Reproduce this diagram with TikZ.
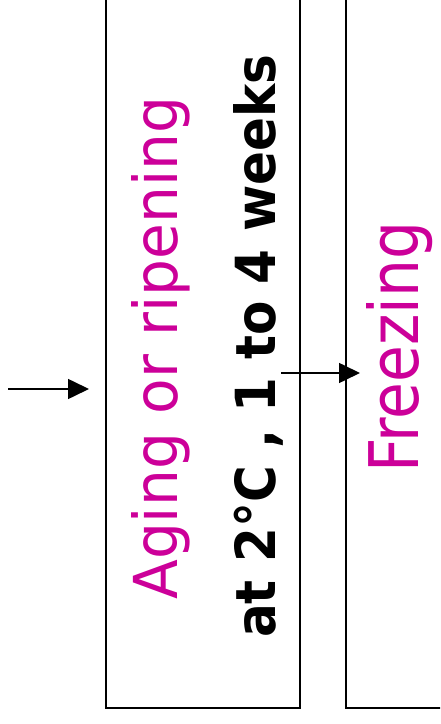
\documentclass[tikz,border=0pt]{standalone}
\usepackage{fontspec}
\setmainfont{DejaVu Sans}
\usetikzlibrary{arrows.meta}
\definecolor{stagepink}{RGB}{204,0,153}
\tikzset{
  stagebox/.style={draw=black, line width=2pt, anchor=south west, inner sep=0pt},
  flow/.style={-{Triangle[length=21pt,width=20pt]}, line width=1.6pt},
  stagetitle/.style={text=stagepink, rotate=90, anchor=base west, inner sep=0pt},
  stagecond/.style={text=black, rotate=90, anchor=base west, inner sep=0pt, font=\bfseries}
}
\begin{document}
\begin{tikzpicture}[x=1pt,y=1pt]
  \clip (0,0) rectangle (440,724);
  % process boxes (running past the top edge)
  \node[stagebox, minimum width=194pt, minimum height=740pt] (age) at (105,15) {};
  \node[stagebox, minimum width=140pt, minimum height=740pt] (freeze) at (345,15) {};
  % labels
  \node[stagetitle] (agetitle) at (177,124) {\resizebox{503pt}{46pt}{Aging or ripening}};
  \node[stagecond] (agecond) at (275,86) {\resizebox{583pt}{42pt}{at 2°C , 1 to 4 weeks}};
  \node[stagetitle] (freezetitle) at (418,251) {\resizebox{251pt}{52pt}{Freezing}};
  % flow arrows
  \coordinate (feedin) at (8,335);
  \coordinate (feedtip) at (89,335);
  \coordinate (ageout) at (281,351);
  \coordinate (freezein) at (360,351);
  \draw[flow] (feedin) -- (feedtip);
  \draw[flow] (ageout) -- (freezein);
\end{tikzpicture}
\end{document}
